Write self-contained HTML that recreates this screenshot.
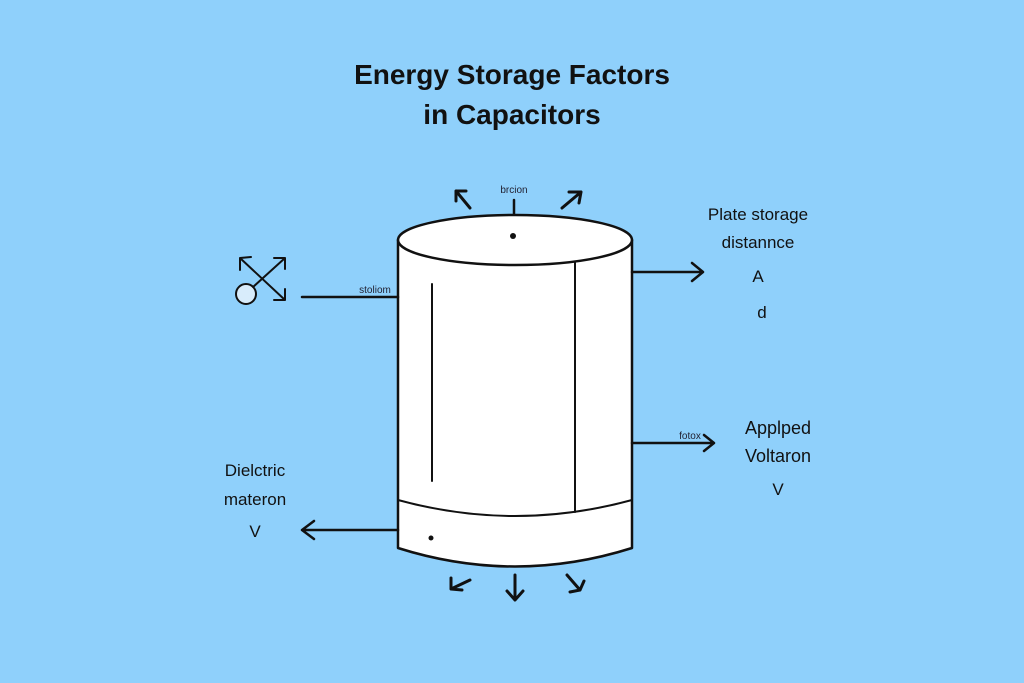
<!DOCTYPE html>
<html><head><style>body{margin:0;background:#8fd0fb}svg{display:block}</style></head><body>
<svg width="1024" height="683" viewBox="0 0 1024 683" font-family="Liberation Sans, sans-serif">
<rect width="1024" height="683" fill="#8fd0fb"/>
<g text-anchor="middle" fill="#111">
<text x="512" y="84" font-size="28" font-weight="bold">Energy Storage Factors</text>
<text x="512" y="124" font-size="28" font-weight="bold">in Capacitors</text>
<text x="758" y="220" font-size="17">Plate storage</text>
<text x="758" y="248" font-size="17">distannce</text>
<text x="758" y="282" font-size="17">A</text>
<text x="762" y="318" font-size="17">d</text>
<text x="778" y="434" font-size="18">Applped</text>
<text x="778" y="462" font-size="18">Voltaron</text>
<text x="778" y="495" font-size="17">V</text>
<text x="255" y="476" font-size="17">Dielctric</text>
<text x="255" y="505" font-size="17">materon</text>
<text x="255" y="537" font-size="17">V</text>
<text x="514" y="193" font-size="10" fill="#223">brcion</text>
<text x="375" y="293" font-size="10" fill="#223">stoliom</text>
<text x="690" y="439" font-size="10" fill="#223">fotox</text>
</g>
<g stroke="#111" stroke-width="2.5" fill="none" stroke-linecap="round" stroke-linejoin="round">
<path d="M398,240 L398,548 Q515,585 632,548 L632,240" fill="#fff"/>
<ellipse cx="515" cy="240" rx="117" ry="25" fill="#fff"/>
<path d="M398,500 Q515,532 632,500" stroke-width="2"/>
<line x1="575" y1="262" x2="575" y2="512" stroke-width="2"/>
<line x1="432" y1="284" x2="432" y2="481" stroke-width="2"/>
<line x1="514" y1="200" x2="514" y2="214"/>
<path d="M470,208 L456,191 M456,191 L456,201 M456,191 L466,191" stroke-width="3"/>
<path d="M562,208 L581,192 M581,192 L569,192 M581,192 L579,203" stroke-width="3"/>
<path d="M632,272 L703,272 M692,263 L703,272 L692,281"/>
<path d="M632,443 L714,443 M704,435 L714,443 L704,451"/>
<path d="M398,530 L302,530 M314,521 L302,530 L314,539"/>
<path d="M470,580 L451,589 M451,589 L451,578 M451,589 L462,590" stroke-width="3"/>
<path d="M515,575 L515,600 M507,591 L515,600 L523,591" stroke-width="3"/>
<path d="M567,575 L580,590 M580,590 L570,592 M580,590 L584,581" stroke-width="3"/>
<line x1="302" y1="297" x2="398" y2="297"/>
<circle cx="246" cy="294" r="10" fill="#d8ecfb" stroke-width="2"/>
<path d="M253,287 L285,258 M274,258 L285,258 L285,269" stroke-width="2"/>
<path d="M240,258 L285,300 M240,258 L240,270 M240,258 L251,257 M285,300 L285,289 M285,300 L274,300" stroke-width="2"/>
</g>
<circle cx="513" cy="236" r="3" fill="#111"/>
<circle cx="431" cy="538" r="2.5" fill="#111"/>
</svg>
</body></html>
